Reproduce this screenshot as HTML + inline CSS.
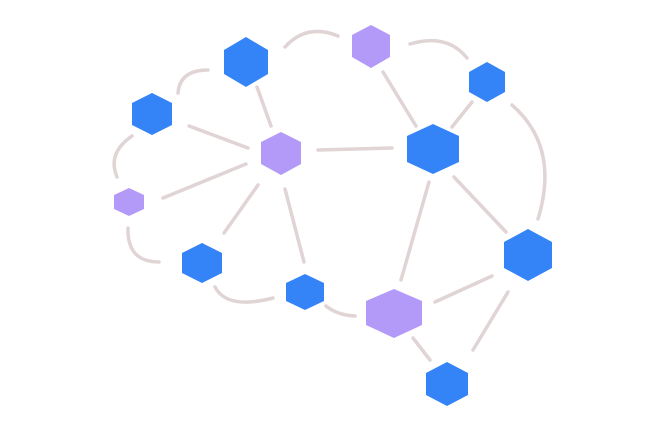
<!DOCTYPE html>
<html><head><meta charset="utf-8"><style>html,body{margin:0;padding:0;background:#fff}svg{display:block}</style></head>
<body>
<svg width="663" height="428" viewBox="0 0 663 428" xmlns="http://www.w3.org/2000/svg">
<g stroke="#e0d4d5" stroke-width="3.5" stroke-linecap="round" fill="none">
<line x1="257" y1="87" x2="271" y2="126"/>
<line x1="189" y1="126" x2="248" y2="148"/>
<line x1="318" y1="150" x2="392" y2="148"/>
<line x1="163" y1="198" x2="246" y2="164"/>
<line x1="258" y1="185" x2="224" y2="233"/>
<line x1="285" y1="189" x2="304" y2="262"/>
<line x1="383" y1="72" x2="416" y2="126"/>
<line x1="472" y1="102" x2="452" y2="127"/>
<line x1="429" y1="182" x2="401" y2="280"/>
<line x1="454" y1="177" x2="506" y2="232"/>
<line x1="435" y1="302" x2="492" y2="276"/>
<line x1="508" y1="292" x2="473" y2="350"/>
<line x1="413" y1="338" x2="430" y2="360"/>
<path d="M285 47 Q307 23 338 36"/>
<path d="M410 44 Q447 33 467 58"/>
<path d="M178 93 Q180 70 208 70"/>
<path d="M132 136 Q107 153 117 177"/>
<path d="M128 228 Q127 262 159 262"/>
<path d="M215 287 Q227 310 273 298"/>
<path d="M326 306 Q337 315 355 316"/>
<path d="M512 105 Q560 147 538 219"/>
</g>
<g>
<polygon fill="#3484f8" points="246,37 268,50 268,74 246,87 224,74 224,50"/>
<polygon fill="#b399f8" points="371,25 390,35 390,57 371,68 352,57 352,35"/>
<polygon fill="#3484f8" points="487,62 505,72 505,92 487,102 469,92 469,72"/>
<polygon fill="#3484f8" points="152,93 172,103 172,125 152,135 132,125 132,103"/>
<polygon fill="#b399f8" points="281,132 301,142 301,164 281,175 261,164 261,142"/>
<polygon fill="#3484f8" points="433,124 459,136 459,162 433,174 407,162 407,136"/>
<polygon fill="#b399f8" points="129,188 144,195 144,209 129,216 114,209 114,195"/>
<polygon fill="#3484f8" points="202,243 222,253 222,273 202,283 182,273 182,253"/>
<polygon fill="#3484f8" points="305,274 324,283 324,301 305,310 286,301 286,283"/>
<polygon fill="#b399f8" points="394,289 422,301 422,325 394,338 366,325 366,301"/>
<polygon fill="#3484f8" points="528,229 552,242 552,268 528,281 504,268 504,242"/>
<polygon fill="#3484f8" points="447,362 468,373 468,395 447,406 426,395 426,373"/>
</g>
</svg>
</body></html>
